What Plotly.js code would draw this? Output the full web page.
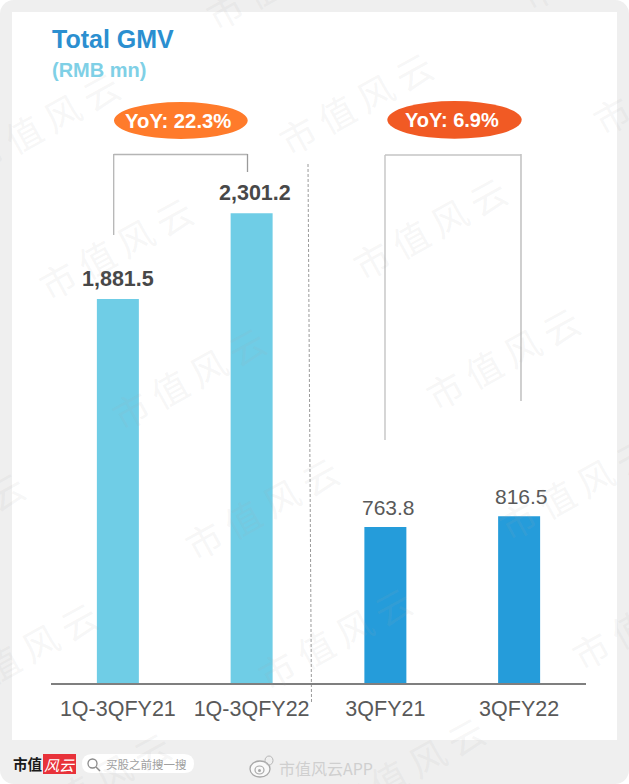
<!DOCTYPE html>
<html><head><meta charset="utf-8">
<script src="https://cdn.plot.ly/plotly-3.0.1.min.js"></script>
<style>html,body{margin:0;padding:0;background:#fff;overflow:hidden}#c{width:629px;height:784px;border-radius:14px;overflow:hidden}</style>
</head><body><div id="c"></div>
<script>
const categories = ['1Q-3QFY21','1Q-3QFY22','3QFY21','3QFY22'];
const values = [1881.5,2301.2,763.8,816.5];
const barColors = ['#6FCDE6','#6FCDE6','#259CDA','#259CDA'];
const labelWeights = [700,700,400,400];
const labelShifts = [0,3,3,2];
const yoyLabels = ['YoY: 22.3%','YoY: 6.9%'];
const watermarkStarts = [[-130,565],[-57,695],[16,825],[-35,165],[38,290],[111,420],[184,550],[257,680],[330,810],[205,20],[278,145],[352,270],[425,400],[498,530],[571,660],[519,0],[592,125]];

const W=629,H=784;
const px=x=>x/W, py=y=>1-y/H;
const pl=(x0,y0,x1,y1,color,width,dash)=>({type:'line',xref:'paper',yref:'paper',x0:px(x0),y0:py(y0),x1:px(x1),y1:py(y1),layer:'below',line:{color,width,dash:dash||'solid'}});
const oval=(x0,y0,x1,y1,fill,lc,lw)=>({type:'circle',xref:'paper',yref:'paper',x0:px(x0),y0:py(y0),x1:px(x1),y1:py(y1),layer:'above',fillcolor:fill,line:{color:lc||fill,width:lw===undefined?0:lw}});
const rect=(x0,y0,x1,y1,fill)=>({type:'rect',xref:'paper',yref:'paper',x0:px(x0),y0:py(y0),x1:px(x1),y1:py(y1),layer:'below',fillcolor:fill,line:{width:0}});
const txt=(x,y,text,size,color,o)=>Object.assign({xref:'paper',yref:'paper',x:px(x),y:py(y),text,showarrow:false,xanchor:'left',yanchor:'middle',font:{family:'Liberation Sans, Arial, sans-serif',size,color},borderpad:0},o||{});

const shapes=[
 rect(12,12,617,740,'#ffffff'),
 pl(113.7,154.5,247.5,154.5,'#b5b5b5',1.3), pl(113.7,154,113.7,235,'#b5b5b5',1.3), pl(247.5,154,247.5,172,'#9a9a9a',1.3),
 pl(385,155,521,155,'#c4c4c4',1.6), pl(385,155,385,440,'#c4c4c4',1.4), pl(521,154,521,401,'#c4c4c4',1.6),
 pl(308,164,311.5,702,'#9a9a9a',1,'3px,2px'),
 oval(114,102,247.7,139,'#FF7B2B'), oval(387.3,101,521.7,138.7,'#F15A24'),
 rect(43,754,76,774,'#E8323A'),
 {type:'path',xref:'paper',yref:'paper',layer:'below',fillcolor:'#ffffff',line:{width:0},
  path:`M ${px(92)} ${py(754)} L ${px(184)} ${py(754)} Q ${px(194)} ${py(754)} ${px(194)} ${py(764)} Q ${px(194)} ${py(773)} ${px(184)} ${py(773)} L ${px(92)} ${py(773)} Q ${px(82)} ${py(773)} ${px(82)} ${py(764)} Q ${px(82)} ${py(754)} ${px(92)} ${py(754)} Z`},
 oval(88,759,97,768,'rgba(0,0,0,0)','#8a8a8a',1.3), pl(96,767,100,771,'#8a8a8a',1.4),
 oval(250,761,270,777,'rgba(255,255,255,.6)','#a8a8a8',1.3), oval(255,766,264,774,'rgba(0,0,0,0)','#a8a8a8',1.2), oval(258,769,261,772,'#a8a8a8'),
 oval(265,756,273,765,'rgba(0,0,0,0)','#b5b5b5',1)
];

const annotations=[
 txt(51,39,'<b>Total GMV</b>',25,'#2B8FD0'),
 txt(51,70,'<b>(RMB mn)</b>',20,'#7FD0E6'),
 txt(178,121,'<b>'+yoyLabels[0]+'</b>',20.3,'#ffffff',{xanchor:'center'}),
 txt(452,120,'<b>'+yoyLabels[1]+'</b>',20,'#ffffff',{xanchor:'center'}),
 txt(12,764,'<b>市值</b>',14.5,'#1a1a1a',{font:{family:'Liberation Serif, Noto Sans CJK SC',size:14.5,color:'#1a1a1a'}}),
 txt(59.5,764,'<i>风云</i>',15,'#fff',{xanchor:'center',font:{family:'Noto Sans CJK SC',size:15,color:'#fff'}}),
 txt(105,764,'买股之前搜一搜',11.5,'#a0a0a0',{font:{family:'Noto Sans CJK SC',size:11.5,color:'#a0a0a0'}}),
 txt(278,768,'市值风云APP',16,'#cfcfcf',{font:{family:'Noto Sans CJK SC',size:16,color:'#cfcfcf'}}),
];
values.forEach((v,i)=>annotations.push({xref:'x',yref:'y',x:categories[i],y:v,text:v.toLocaleString('en-US',{minimumFractionDigits:1}),showarrow:false,yanchor:'middle',yshift:20,xshift:labelShifts[i],
  font:{family:'Liberation Sans, Arial, sans-serif',size:i<2?21.5:21,weight:labelWeights[i],color:i<2?'#484848':'#595959'}}));
watermarkStarts.forEach(([x,y])=>annotations.push(txt(x+77,y-43,'市 值 风 云',36,'',{xanchor:'center',textangle:-29,font:{family:'Noto Sans CJK SC',size:36,color:'rgba(170,170,170,0.11)'}})));

Plotly.newPlot('c',[{type:'bar',x:categories,y:values,marker:{color:barColors,line:{width:0}},hoverinfo:'skip'}],{
 width:W,height:H,margin:{l:0,r:0,t:0,b:0,pad:0},paper_bgcolor:'#efefef',plot_bgcolor:'rgba(0,0,0,0)',showlegend:false,bargap:0.686,
 xaxis:{domain:[51/W,586/W],type:'category',categoryorder:'array',categoryarray:categories,range:[-0.5,3.5],showline:true,linecolor:'#7f7f7f',linewidth:2,ticks:'',ticklabelstandoff:5,showgrid:false,zeroline:false,tickfont:{family:'Liberation Sans, Arial, sans-serif',size:21.5,color:'#595959'}},
 yaxis:{domain:[(H-683)/H,1],range:[0,3346],visible:false,showgrid:false,zeroline:false},
 shapes,annotations
},{displayModeBar:false,staticPlot:true});
</script></body></html>
